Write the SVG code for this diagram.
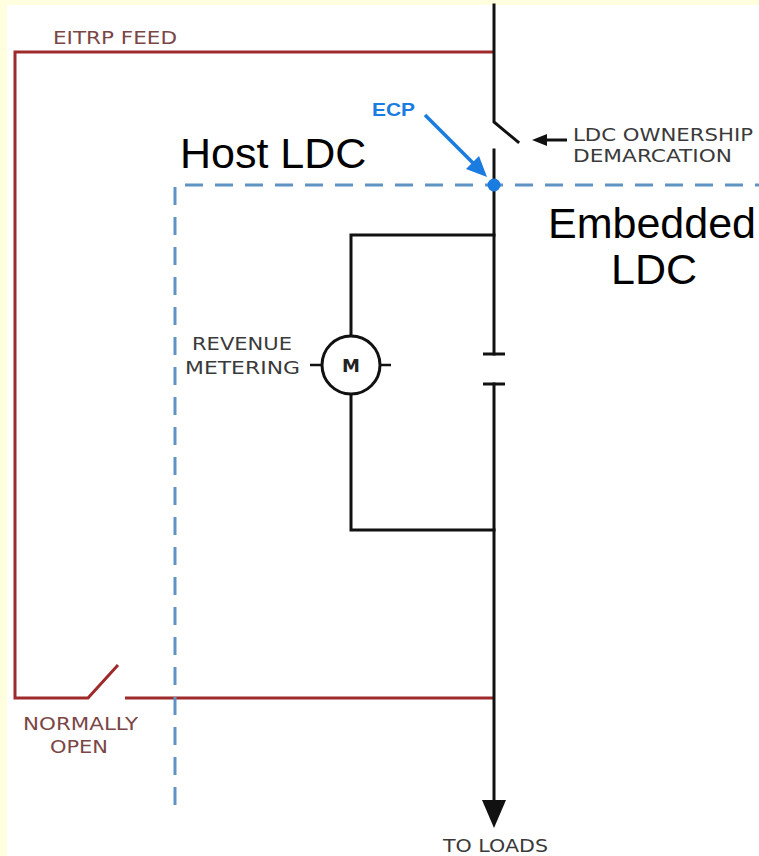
<svg xmlns="http://www.w3.org/2000/svg" width="759" height="856" viewBox="0 0 759 856">
<style>
.blk{stroke:#111;stroke-width:3;fill:none;stroke-linecap:square}
.red{stroke:#9e2a2b;stroke-width:3;fill:none}
.bdash{stroke:#5f93c3;stroke-width:3;fill:none;stroke-dasharray:18 12}
.lbl{font-family:"DejaVu Sans",Verdana,sans-serif;font-size:17px;fill:#3a3a3a}
.rlbl{font-family:"DejaVu Sans",Verdana,sans-serif;font-size:17px;fill:#7b4646}
.big{font-family:"Liberation Sans",Arial,sans-serif;font-size:43px;fill:#000}
</style>
<rect x="0" y="0" width="759" height="856" fill="#ffffe0"/>
<rect x="7" y="5" width="752" height="851" fill="#ffffff"/>

<g id="connectors">
  <path class="red" d="M494,52 H15 V698 H88 L118,665"/>
  <path class="red" d="M125,698 H494"/>
  <path class="bdash" d="M175,805 V185 H759"/>
  <path class="blk" d="M494,5 V122 L518,142"/>
  <path class="blk" d="M494,150 V354"/>
  <path class="blk" d="M494,384 V800"/>
  <path class="blk" d="M494,235 H351 V336"/>
  <path class="blk" d="M351,394 V530 H494"/>
  <polygon points="482,800 506,800 494,828" fill="#111"/>
  <line x1="545" y1="140" x2="567" y2="140" stroke="#111" stroke-width="3"/>
  <polygon points="532,140 547,134 547,146" fill="#111"/>
  <line x1="425" y1="115" x2="474" y2="164" stroke="#1a7be0" stroke-width="3.5"/>
  <polygon points="487,177 466,169 479,156" fill="#1a7be0"/>
</g>

<g id="feed">
  <text class="rlbl" x="53" y="44" textLength="124" lengthAdjust="spacingAndGlyphs">EITRP FEED</text>
</g>

<g id="ownership-switch">
  <text class="lbl" x="573" y="141" textLength="180" lengthAdjust="spacingAndGlyphs">LDC OWNERSHIP</text>
  <text class="lbl" x="573" y="162" textLength="159" lengthAdjust="spacingAndGlyphs">DEMARCATION</text>
</g>

<g id="ecp">
  <circle cx="494" cy="185" r="6.5" fill="#1a7be0"/>
  <text x="372" y="116" font-family="Liberation Sans,Arial,sans-serif" font-weight="bold" font-size="19" fill="#1a7be0" textLength="43" lengthAdjust="spacingAndGlyphs">ECP</text>
</g>

<g id="host-ldc">
  <text class="big" x="180" y="168">Host LDC</text>
</g>

<g id="embedded-ldc">
  <text class="big" x="652" y="238" text-anchor="middle">Embedded</text>
  <text class="big" x="654" y="284" text-anchor="middle">LDC</text>
</g>

<g id="meter">
  <circle cx="351" cy="365" r="29" fill="#fff" stroke="#111" stroke-width="3"/>
  <line x1="310" y1="365" x2="322" y2="365" stroke="#111" stroke-width="2.5"/>
  <line x1="380" y1="365" x2="391" y2="365" stroke="#111" stroke-width="2.5"/>
  <text x="351" y="372" text-anchor="middle" font-family="DejaVu Sans,Verdana,sans-serif" font-weight="bold" font-size="18" fill="#222">M</text>
  <text class="lbl" x="192" y="350" textLength="100" lengthAdjust="spacingAndGlyphs">REVENUE</text>
  <text class="lbl" x="185" y="374" textLength="115" lengthAdjust="spacingAndGlyphs">METERING</text>
</g>

<g id="capacitor">
  <line x1="483" y1="354" x2="505" y2="354" stroke="#111" stroke-width="3"/>
  <line x1="483" y1="384" x2="505" y2="384" stroke="#111" stroke-width="3"/>
</g>

<g id="normally-open">
  <text class="rlbl" x="23" y="730" textLength="115" lengthAdjust="spacingAndGlyphs">NORMALLY</text>
  <text class="rlbl" x="50" y="753" textLength="58" lengthAdjust="spacingAndGlyphs">OPEN</text>
</g>

<g id="loads">
  <text class="lbl" x="443" y="852" textLength="105" lengthAdjust="spacingAndGlyphs">TO LOADS</text>
</g>
</svg>
